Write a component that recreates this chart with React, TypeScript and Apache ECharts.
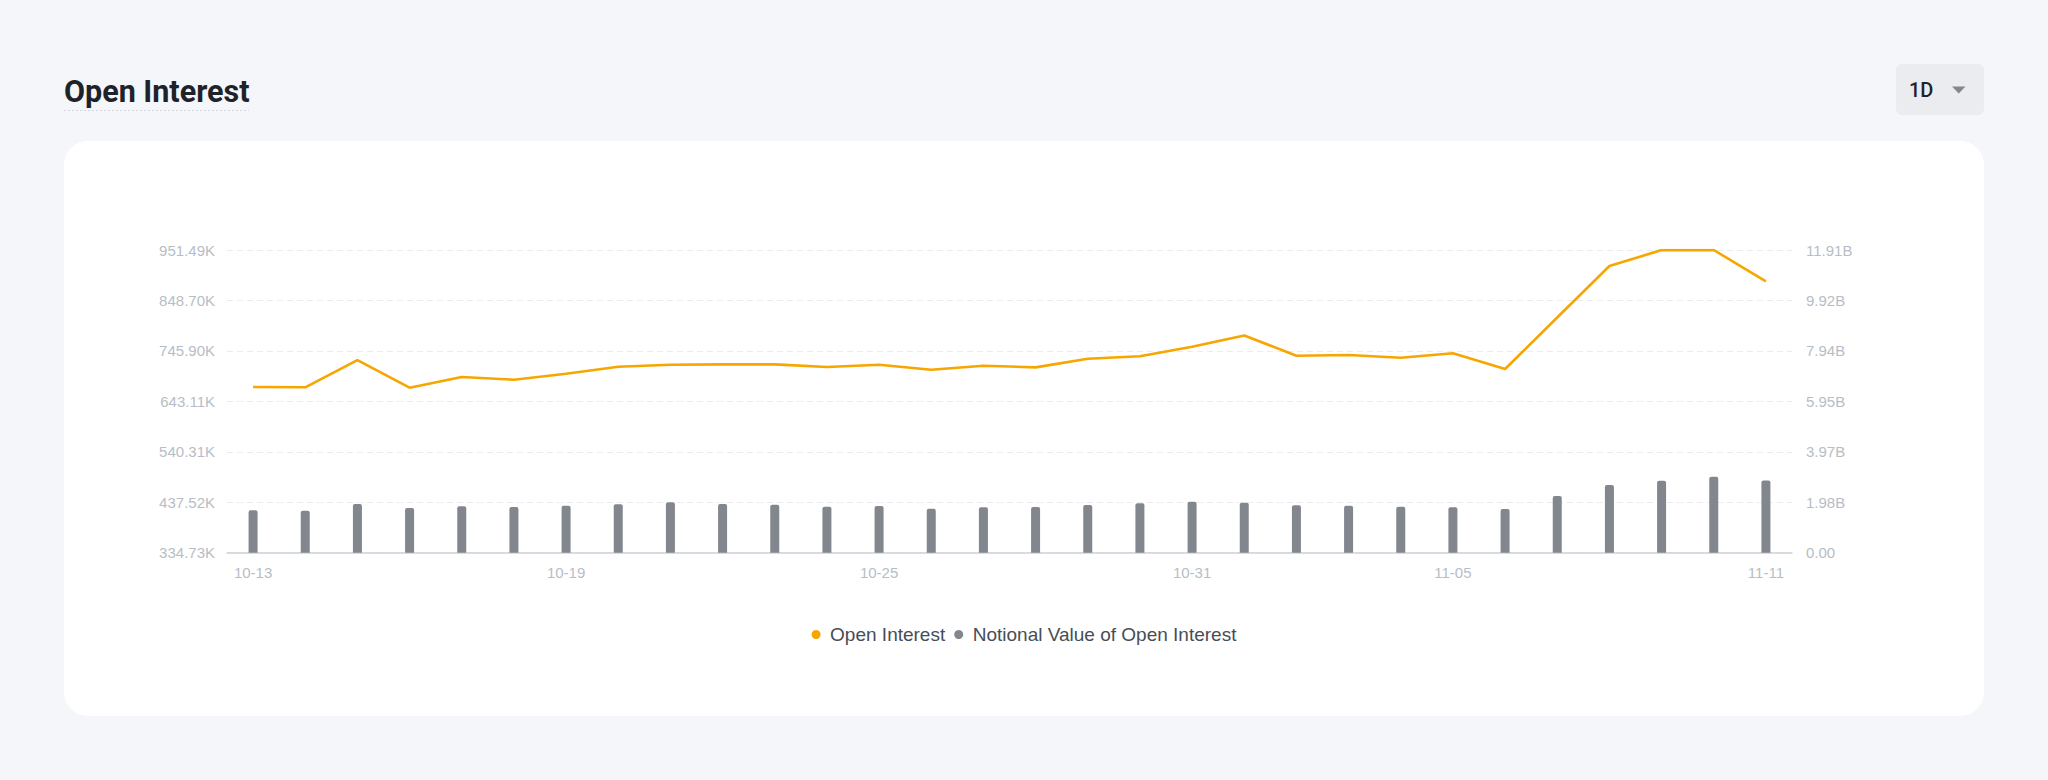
import React, { useEffect, useRef } from "react";
import * as echarts from "echarts";

const DATES = [
  "10-13", "10-14", "10-15", "10-16", "10-17", "10-18", "10-19", "10-20", "10-21", "10-22",
  "10-23", "10-24", "10-25", "10-26", "10-27", "10-28", "10-29", "10-30", "10-31", "11-01",
  "11-02", "11-03", "11-04", "11-05", "11-06", "11-07", "11-08", "11-09", "11-10", "11-11",
];
const SHOWN_DATES = ["10-13", "10-19", "10-25", "10-31", "11-05", "11-11"];

const OPEN_INTEREST = [
  672300, 671700, 727300, 670900, 692700, 687200, 699400, 713700, 717800, 718500,
  718500, 713000, 717800, 707600, 715700, 712400, 730000, 734900, 754400, 777300,
  736100, 737500, 732000, 741000, 709000, 814000, 918900, 951300, 951490, 887500,
];
const NOTIONAL_VALUE = [
  1.668e9, 1.652e9, 1.916e9, 1.759e9, 1.825e9, 1.798e9, 1.849e9, 1.904e9, 1.983e9, 1.916e9,
  1.888e9, 1.81e9, 1.837e9, 1.731e9, 1.786e9, 1.798e9, 1.877e9, 1.943e9, 2.006e9, 1.967e9,
  1.865e9, 1.849e9, 1.81e9, 1.786e9, 1.719e9, 2.231e9, 2.663e9, 2.833e9, 2.99e9, 2.838e9,
];

const LEFT_TICK_LABELS = ["334.73K", "437.52K", "540.31K", "643.11K", "745.90K", "848.70K", "951.49K"];
const RIGHT_TICK_LABELS = ["0.00", "1.98B", "3.97B", "5.95B", "7.94B", "9.92B", "11.91B"];
const LEFT_MIN = 334725.5;
const LEFT_INTERVAL = 102794.5;
const RIGHT_INTERVAL = 1984800000;

const SERIES_NAMES = ["Open Interest", "Notional Value of Open Interest"];
const TITLE = "Open Interest";
const PERIOD = "1D";

export default function App() {
  const ref = useRef<HTMLDivElement>(null);

  useEffect(() => {
    document.body.style.margin = "0";
    if (!ref.current) return;
    const chart = echarts.init(ref.current, undefined, { renderer: "svg" });
    const axisFont = "'Liberation Sans', Arial, sans-serif";
    chart.setOption({
      animation: false,
      backgroundColor: "#F5F6FA",
      graphic: [
        {
          type: "rect",
          z: -10,
          shape: { x: 64, y: 141, width: 1920, height: 575, r: 24 },
          style: { fill: "#FFFFFF" },
        },
        {
          type: "text",
          z: 10,
          x: 64,
          y: 91,
          style: {
            text: TITLE,
            fill: "#1E2329",
            font: "bold 30.5px Roboto, sans-serif",
            textVerticalAlign: "middle",
            verticalAlign: "middle",
          },
        },
        {
          type: "line",
          z: 10,
          shape: { x1: 64, y1: 110.5, x2: 249, y2: 110.5 },
          style: { stroke: "#D5D8DD", lineWidth: 1, lineDash: [2, 2] },
        },
        {
          type: "rect",
          z: 10,
          shape: { x: 1896, y: 64, width: 88, height: 51, r: 6 },
          style: { fill: "#EAECEF" },
        },
        {
          type: "text",
          z: 11,
          x: 1909,
          y: 90,
          style: {
            text: PERIOD,
            fill: "#1E2329",
            font: "500 20px Roboto, sans-serif",
            textVerticalAlign: "middle",
            verticalAlign: "middle",
          },
        },
        {
          type: "polygon",
          z: 11,
          shape: { points: [[1952, 86.5], [1965.5, 86.5], [1958.75, 93.5]] },
          style: { fill: "#82868D" },
        },
      ],
      legend: {
        left: "center",
        top: 620,
        itemWidth: 18,
        itemHeight: 9,
        itemGap: 9,
        icon: "circle",
        textStyle: { color: "#474D57", fontSize: 19, fontFamily: axisFont },
        data: SERIES_NAMES,
      },
      grid: { left: 227, right: 256, top: 250, height: 302.7, containLabel: false },
      xAxis: {
        type: "category",
        data: DATES,
        boundaryGap: true,
        axisTick: { show: false },
        axisLine: { lineStyle: { color: "#CDD1D8", width: 1.5 } },
        axisLabel: {
          interval: (index: number) => SHOWN_DATES.includes(DATES[index]),
          color: "#B7BDC6",
          fontSize: 15,
          fontFamily: axisFont,
          margin: 12,
        },
        splitLine: { show: false },
      },
      yAxis: [
        {
          type: "value",
          min: LEFT_MIN,
          max: LEFT_MIN + 6 * LEFT_INTERVAL,
          interval: LEFT_INTERVAL,
          axisLine: { show: false },
          axisTick: { show: false },
          axisLabel: {
            formatter: (_v: number, i: number) => LEFT_TICK_LABELS[i] ?? "",
            color: "#B7BDC6",
            fontSize: 15,
            fontFamily: axisFont,
            margin: 12,
          },
          splitLine: { lineStyle: { color: "#EAECEF", type: [6, 4], width: 1 } },
        },
        {
          type: "value",
          min: 0,
          max: 6 * RIGHT_INTERVAL,
          interval: RIGHT_INTERVAL,
          axisLine: { show: false },
          axisTick: { show: false },
          axisLabel: {
            formatter: (_v: number, i: number) => RIGHT_TICK_LABELS[i] ?? "",
            color: "#B7BDC6",
            fontSize: 15,
            fontFamily: axisFont,
            margin: 14,
          },
          splitLine: { show: false },
        },
      ],
      series: [
        {
          name: SERIES_NAMES[0],
          type: "line",
          yAxisIndex: 0,
          data: OPEN_INTEREST,
          symbol: "none",
          showSymbol: false,
          lineStyle: { color: "#F7A600", width: 2.6 },
          itemStyle: { color: "#F7A600" },
          z: 3,
        },
        {
          name: SERIES_NAMES[1],
          type: "bar",
          yAxisIndex: 1,
          data: NOTIONAL_VALUE,
          barWidth: 9,
          itemStyle: { color: "#82868D", borderRadius: [2, 2, 0, 0] },
        },
      ],
    });
    return () => chart.dispose();
  }, []);

  return (
    <div
      ref={ref}
      style={{ position: "absolute", left: 0, top: 0, width: 2048, height: 780 }}
    />
  );
}
